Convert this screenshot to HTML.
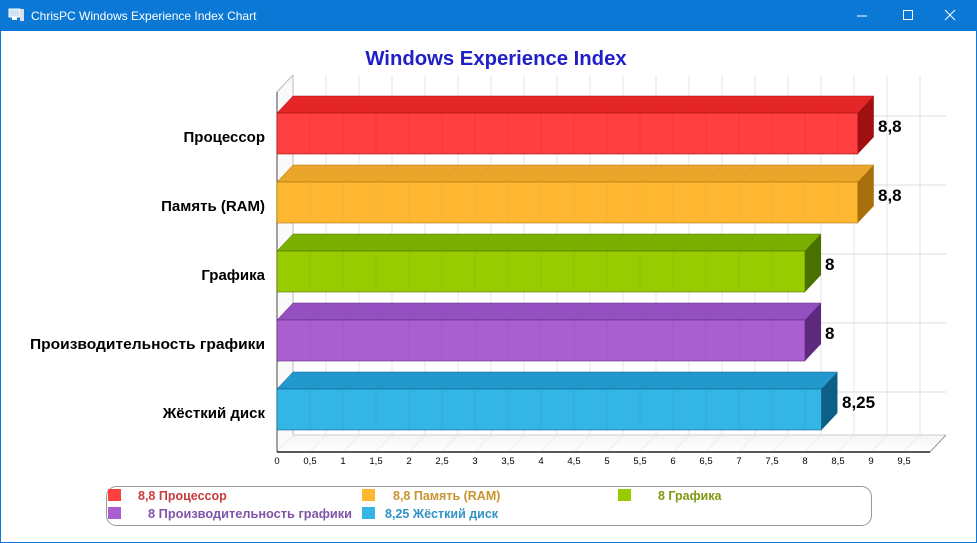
<!DOCTYPE html>
<html><head><meta charset="utf-8"><style>
html,body{margin:0;padding:0;width:977px;height:543px;overflow:hidden;background:#fff;font-family:"Liberation Sans",sans-serif}
.tb{position:absolute;left:0;top:0;width:977px;height:31px;background:#0a78d4;color:#fff;font-size:12px}
.win{position:absolute;left:0;top:31px;width:975px;height:511px;border:1px solid #0a78d4;border-top:none}
</style></head><body>
<div class="tb">
<svg width="977" height="31" style="position:absolute;left:0;top:0">
<rect x="9" y="9" width="11" height="8" fill="#cfe3f5" stroke="#fff"/><rect x="12" y="17" width="5" height="3" fill="#fff"/><rect x="20" y="9" width="4" height="12" fill="#dde"/>
<text x="31" y="20" fill="#fff" font-size="12" font-family="Liberation Sans, sans-serif">ChrisPC Windows Experience Index Chart</text>
<line x1="857" y1="16" x2="867" y2="16" stroke="#fff"/>
<rect x="903.5" y="10.5" width="9" height="9" fill="none" stroke="#fff"/>
<line x1="945" y1="10" x2="955" y2="20" stroke="#fff"/><line x1="955" y1="10" x2="945" y2="20" stroke="#fff"/>
</svg></div>
<div class="win"></div>
<svg id="c" width="977" height="543" style="position:absolute;left:0;top:0" font-family="Liberation Sans, sans-serif">
<defs>
<linearGradient id="fl" x1="0" y1="0" x2="0" y2="1"><stop offset="0" stop-color="#f4f4f4"/><stop offset="1" stop-color="#fff"/></linearGradient>
</defs>
<text x="496" y="65" text-anchor="middle" font-size="20.3" font-weight="bold" fill="#2020c8">Windows Experience Index</text>
<g id="grid"></g>
<g id="bars"></g>
<g font-size="15" font-weight="bold" fill="#000" text-anchor="end">
<text x="265" y="142">Процессор</text>
<text x="265" y="211">Память (RAM)</text>
<text x="265" y="280">Графика</text>
<text x="265" y="349" textLength="235" lengthAdjust="spacingAndGlyphs">Производительность графики</text>
<text x="265" y="418">Жёсткий диск</text>
</g>
<g font-size="17" font-weight="bold" fill="#000">
<text x="878" y="132">8,8</text>
<text x="878" y="201">8,8</text>
<text x="825" y="270">8</text>
<text x="825" y="339">8</text>
<text x="842" y="408">8,25</text>
</g>
<g font-size="9.5" fill="#000" text-anchor="middle" id="ticks"></g>
<rect x="106.5" y="486.5" width="765" height="39" rx="10" fill="none" stroke="#999"/>
<g font-size="12.5" font-weight="bold">
<rect x="108" y="489" width="13" height="12" fill="#ff4040"/><text x="138" y="500" fill="#c83c3c">8,8 Процессор</text>
<rect x="362" y="489" width="13" height="12" fill="#ffb732"/><text x="393" y="500" fill="#c99530">8,8 Память (RAM)</text>
<rect x="618" y="489" width="13" height="12" fill="#99cc00"/><text x="658" y="500" fill="#7d9a10">8 Графика</text>
<rect x="108" y="507" width="13" height="12" fill="#a95fd0"/><text x="148" y="518" fill="#8055a8" textLength="204" lengthAdjust="spacingAndGlyphs">8 Производительность графики</text>
<rect x="362" y="507" width="13" height="12" fill="#33b5e5"/><text x="385" y="518" fill="#2f93c4">8,25 Жёсткий диск</text>
</g>
</svg>
<script>
var ns="http://www.w3.org/2000/svg";
function el(p,t,a){var e=document.createElementNS(ns,t);for(var k in a)e.setAttribute(k,a[k]);p.appendChild(e);return e;}
var g=document.getElementById('grid'),b=document.getElementById('bars'),tk=document.getElementById('ticks');
var x0=277,u=66.0,dx=16,dy=17,fy=452;
el(g,'polygon',{points:(x0)+','+fy+' '+(x0+dx)+','+(fy-dy)+' 946,'+(fy-dy)+' 930,'+fy,fill:'url(#fl)',stroke:'none'});
el(g,'polygon',{points:x0+',92 '+(x0+dx)+',75 '+(x0+dx)+','+(fy-dy)+' '+x0+','+fy,fill:'#fafafa',stroke:'none'});
for(var i=0;i<=19;i++){var x=x0+i*u/2;
 el(g,'line',{x1:x+dx,y1:75,x2:x+dx,y2:fy-dy,stroke:'#e6e6e6'});
 el(g,'line',{x1:x,y1:fy,x2:x+dx,y2:fy-dy,stroke:'#eeeeee'});
 var t=el(tk,'text',{x:x,y:464});t.textContent=(i/2+'').replace('.',',');}
var rows=[[8.8,'#ff4040','#e52626','#a01010'],[8.8,'#ffb732','#eaa62a','#a8700c'],[8,'#99cc00','#7cb000','#4a7000'],[8,'#a95fd0','#9450c0','#5e2a80'],[8.25,'#33b5e5','#2299cc','#0d5f88']];
for(var r=0;r<5;r++){var y=116+r*69;el(g,'line',{x1:x0+dx,y1:y,x2:946,y2:y,stroke:'#dcdcdc'});}
el(g,'line',{x1:x0+dx,y1:75,x2:x0+dx,y2:fy-dy,stroke:'#bbb'});
el(g,'line',{x1:x0,y1:92,x2:x0+dx,y2:75,stroke:'#bbb'});
el(g,'line',{x1:x0+dx,y1:fy-dy,x2:946,y2:fy-dy,stroke:'#ccc'});
el(g,'line',{x1:930,y1:fy,x2:946,y2:fy-dy,stroke:'#999'});
el(g,'line',{x1:x0,y1:92,x2:x0,y2:fy,stroke:'#444'});
el(g,'line',{x1:x0,y1:fy,x2:930,y2:fy,stroke:'#222','stroke-width':1.5});
rows.forEach(function(d,r){var y=113+r*69,h=41,w=d[0]*u,xe=x0+w;
 el(b,'polygon',{points:x0+','+y+' '+(x0+dx)+','+(y-dy)+' '+(xe+dx)+','+(y-dy)+' '+xe+','+y,fill:d[2],stroke:d[3],'stroke-width':0.5});
 el(b,'rect',{x:x0,y:y,width:w,height:h,fill:d[1],stroke:d[3],'stroke-width':0.6});
 for(var i=1;i<=17;i++){var x=x0+i*u/2;if(x<xe-1){el(b,'line',{x1:x,y1:y,x2:x,y2:y+h,stroke:d[2],'stroke-width':0.6,opacity:0.6});el(b,'line',{x1:x,y1:y,x2:x+dx,y2:y-dy,stroke:d[3],'stroke-width':0.4,opacity:0.3});}}
 el(b,'polygon',{points:xe+','+y+' '+(xe+dx)+','+(y-dy)+' '+(xe+dx)+','+(y+h-dy)+' '+xe+','+(y+h),fill:d[3]});
});
</script>
</body></html>
